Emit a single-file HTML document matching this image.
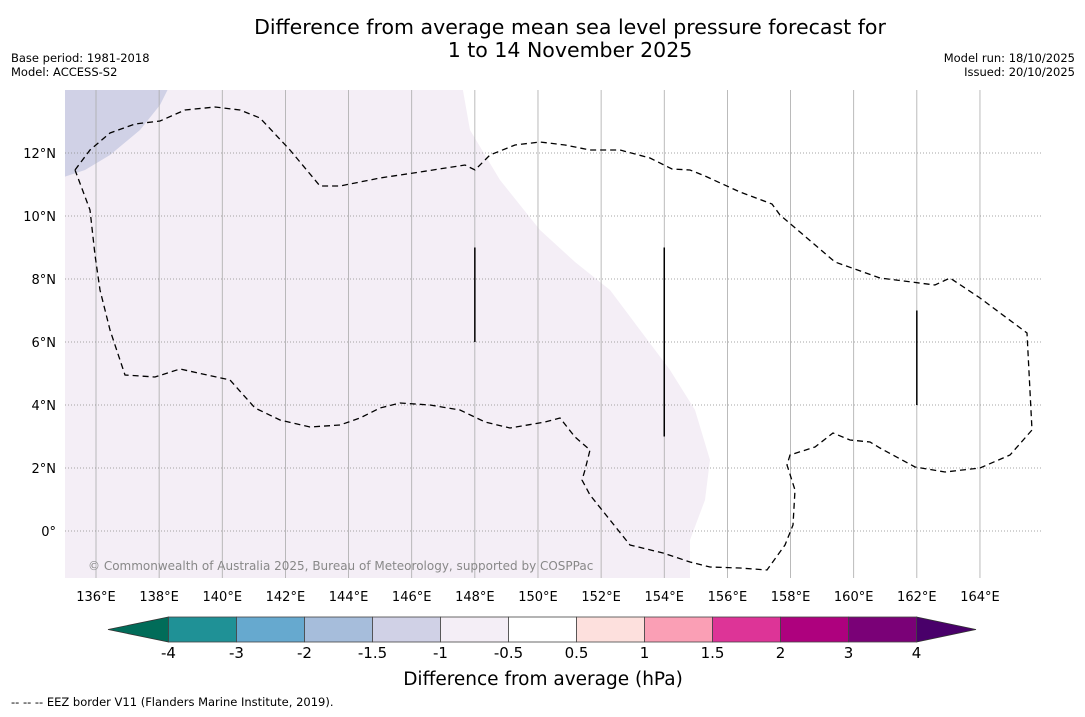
<!DOCTYPE html>
<html><head><meta charset="utf-8"><style>
body{margin:0;background:#fff;width:1085px;height:713px;overflow:hidden;font-family:"DejaVu Sans","Liberation Sans",sans-serif}
</style></head><body>
<svg id="c" width="1085" height="713" xmlns="http://www.w3.org/2000/svg" font-family="DejaVu Sans, Liberation Sans, sans-serif">
<text x="570" y="34" text-anchor="middle" font-size="20.5">Difference from average mean sea level pressure forecast for</text>
<text x="570" y="57" text-anchor="middle" font-size="20.5">1 to 14 November 2025</text>
<text x="11" y="62" font-size="11.5">Base period: 1981-2018</text>
<text x="11" y="76" font-size="11.5">Model: ACCESS-S2</text>
<text x="1075" y="62" font-size="11.5" text-anchor="end">Model run: 18/10/2025</text>
<text x="1075" y="76" font-size="11.5" text-anchor="end">Issued: 20/10/2025</text>
<defs><clipPath id="mc"><rect x="65" y="90" width="977" height="488"/></clipPath></defs>
<g id="map" clip-path="url(#mc)"></g>
<g id="axes"></g>
<g id="cbar"></g>
<text x="543" y="685" text-anchor="middle" font-size="18.5">Difference from average (hPa)</text>
<text x="11" y="706" font-size="11.5">--  --  -- EEZ border V11 (Flanders Marine Institute, 2019).</text>
</svg>
<script>
const lonTicks=[136,138,140,142,144,146,148,150,152,154,156,158,160,162,164];
const latTicks=[0,2,4,6,8,10,12];
const cbLevels=[-4,-3,-2,-1.5,-1,-0.5,0.5,1,1.5,2,3,4];
const cbColors=["#1f9196","#66a9cf","#a6bddb","#d0d1e6","#f4eef6","#ffffff","#fde0dd","#fa9fb5","#dd3497","#ae017e","#7a0177"];
const eezX=[75,90,110,135,160,185,215,240,260,290,320,340,380,420,465,475,490,515,540,565,590,620,650,672,690,705,740,772,780,800,835,880,935,950,980,1027,1032,1010,980,945,915,880,870,850,833,815,790,787,795,793,785,767,740,710,690,663,630,610,590,582,585,590,575,560,545,510,485,460,430,400,380,360,340,310,280,255,230,180,155,125,110,100,95,90,75];
const eezY=[170,150,133,124,121,110,107,110,118,150,186,186,178,172,165,170,155,145,142,145,150,150,158,169,170,176,192,204,215,232,262,278,285,278,298,333,430,455,468,472,467,448,442,440,433,447,455,465,490,525,545,570,568,567,562,553,545,520,495,480,470,450,437,418,422,428,422,410,405,403,408,418,425,427,420,408,380,369,377,375,330,290,255,210,170];
const lonOf=x=>136+(x-96)/31.57, latOf=y=>(531-y)/31.5;
const eezLon=eezX.map(lonOf), eezLat=eezY.map(latOf);
const lavX=[462,470,500,540,575,610,640,670,695,710,705,690,690,40,40];
const lavY=[85,130,180,230,262,290,330,370,410,460,500,540,590,590,85];
const lavLon=lavX.map(lonOf), lavLat=lavY.map(latOf);
const darkX=[40,170,160,140,110,85,40], darkY=[85,85,105,130,155,170,185];
const darkLon=darkX.map(lonOf), darkLat=darkY.map(latOf);
const segLon=[148,154,162], segLat0=[6,3,4], segLat1=[9,9,7];
const X=l=>96+(l-136)*31.57, Y=l=>531-l*31.5;
const NS="http://www.w3.org/2000/svg";
function mk(t,a,p){const e=document.createElementNS(NS,t);for(const k in a)e.setAttribute(k,a[k]);p.appendChild(e);return e;}
const map=document.getElementById('map'),ax=document.getElementById('axes'),cb=document.getElementById('cbar');
mk('rect',{x:65,y:90,width:977,height:488,fill:'#fff'},map);
const pts=(a,b)=>a.map((v,i)=>X(v)+','+Y(b[i])).join(' ');
let lav=mk('polygon',{points:pts(lavLon,lavLat),fill:'#f4eef6'},map);


let dk=mk('polygon',{points:pts(darkLon,darkLat),fill:'#d0d1e6'},map);


lonTicks.forEach(l=>{let g=mk('line',{x1:X(l),x2:X(l),y1:90,y2:578,stroke:'#aaa','stroke-width':0.8},map);


let t=mk('text',{x:X(l),y:601,'text-anchor':'middle','font-size':13},ax);t.textContent=l+'°E';

});
latTicks.forEach(l=>{let g=mk('line',{x1:65,x2:1042,y1:Y(l),y2:Y(l),stroke:'#888','stroke-width':0.8,'stroke-dasharray':'1,2'},map);


let t=mk('text',{x:56,y:Y(l)+5,'text-anchor':'end','font-size':13},ax);t.textContent=(l==0?'0°':l+'°N');

});
let ez=mk('polyline',{points:pts(eezLon,eezLat),fill:'none',stroke:'#000','stroke-width':1.3,'stroke-dasharray':'6,4'},map);


segLon.forEach((l,i)=>{let s=mk('line',{x1:X(l),x2:X(l),y1:Y(segLat0[i]),y2:Y(segLat1[i]),stroke:'#000','stroke-width':1.5},map);

});
let cp=mk('text',{x:88,y:570,'font-size':12,fill:'#888'},map);cp.textContent='© Commonwealth of Australia 2025, Bureau of Meteorology, supported by COSPPac';


const bx0=168.5,bw=68,by=617,bh=25;
let la=mk('polygon',{points:`108,${by+bh/2} ${bx0},${by} ${bx0},${by+bh}`,fill:'#016c59',stroke:'#333','stroke-width':0.8},cb);


let ra=mk('polygon',{points:`976,${by+bh/2} ${bx0+11*bw},${by} ${bx0+11*bw},${by+bh}`,fill:'#49006a',stroke:'#333','stroke-width':0.8},cb);


cbColors.forEach((c,i)=>{let r=mk('rect',{x:bx0+i*bw,y:by,width:bw,height:bh,fill:c,stroke:'#444','stroke-width':0.8},cb);

});
cbLevels.forEach((v,i)=>{let t=mk('text',{x:bx0+i*bw,y:658,'text-anchor':'middle','font-size':15},cb);t.textContent=v;

});
</script>
</body></html>
